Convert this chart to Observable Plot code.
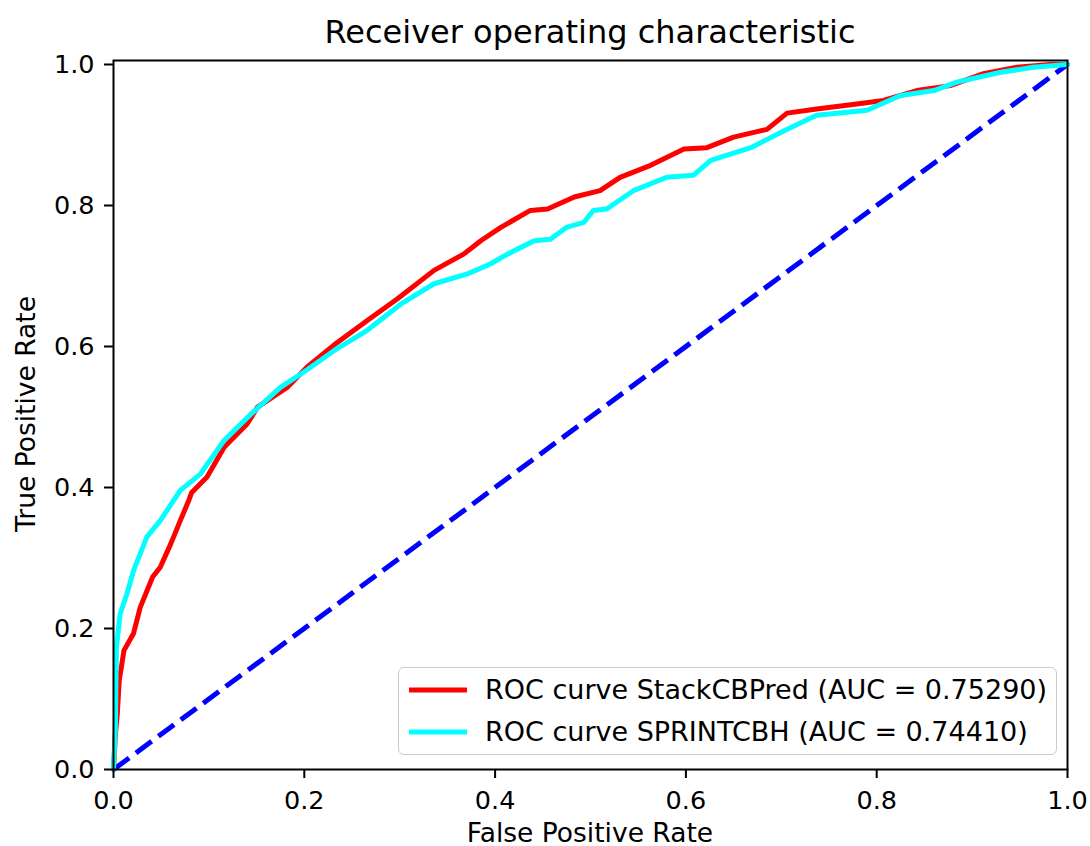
<!DOCTYPE html>
<html>
<head>
<meta charset="utf-8">
<script src="https://cdn.jsdelivr.net/npm/d3@7"></script>
<script src="https://cdn.jsdelivr.net/npm/@observablehq/plot@0.6"></script>
<style>
  html, body { margin: 0; padding: 0; background: #fff; }
  #wrap { position: relative; width: 1090px; height: 846px; font-family: "DejaVu Sans", sans-serif; color: #000; }
  #title { position: absolute; left: 113px; width: 954px; top: 16px; text-align: center; font-size: 32px; line-height: 1; white-space: nowrap; }
  #chart { position: absolute; left: 0; top: 50px; }
  #xlabel { position: absolute; left: 113px; width: 954px; top: 821px; height: 24px; text-align: center; font-size: 26.5px; line-height: 0.9; white-space: nowrap; }
  #ylabel { position: absolute; left: 26px; top: 414px; transform: translate(-50%, -50%) rotate(-90deg); white-space: nowrap; font-size: 26.5px; line-height: 1; }
  #legend { position: absolute; left: 398px; top: 667px; width: 657px; height: 86px; border: 1.5px solid #cccccc; border-radius: 6px; background: rgba(255,255,255,0.8); box-sizing: content-box; }
  .entry { position: absolute; left: 0; height: 30px; font-size: 27px; line-height: 30px; white-space: nowrap; }
  .entry svg { position: absolute; left: 9px; top: 0; }
  .entry span { position: absolute; left: 86px; top: 0; }
</style>
</head>
<body>
<div id="wrap">
  <div id="title">Receiver operating characteristic</div>
  <div id="chart"></div>
  <div id="xlabel">False Positive Rate</div>
  <div id="ylabel">True Positive Rate</div>
  <div id="legend"></div>
</div>
<script>
// ROC curve StackCBPred
const fprRed = [0, 0.002, 0.004, 0.006, 0.011, 0.021, 0.028, 0.041, 0.049, 0.060, 0.070, 0.079, 0.082, 0.098, 0.116, 0.140, 0.151, 0.182, 0.203, 0.231, 0.266, 0.297, 0.336, 0.367, 0.385, 0.406, 0.437, 0.455, 0.483, 0.510, 0.531, 0.563, 0.598, 0.622, 0.650, 0.685, 0.706, 0.737, 0.773, 0.807, 0.842, 0.877, 0.912, 0.947, 0.982, 1.0];
const tprRed = [0, 0.050, 0.079, 0.126, 0.169, 0.193, 0.230, 0.273, 0.287, 0.320, 0.353, 0.382, 0.393, 0.415, 0.457, 0.490, 0.514, 0.542, 0.571, 0.602, 0.637, 0.667, 0.708, 0.731, 0.750, 0.769, 0.793, 0.795, 0.812, 0.821, 0.840, 0.857, 0.880, 0.882, 0.897, 0.908, 0.931, 0.937, 0.943, 0.949, 0.963, 0.970, 0.987, 0.996, 1.0, 1.0];
// ROC curve SPRINTCBH
const fprCyan = [0, 0.002, 0.003, 0.007, 0.014, 0.021, 0.035, 0.049, 0.070, 0.091, 0.116, 0.144, 0.175, 0.203, 0.231, 0.266, 0.301, 0.336, 0.371, 0.395, 0.413, 0.441, 0.458, 0.475, 0.493, 0.503, 0.517, 0.545, 0.580, 0.608, 0.626, 0.668, 0.703, 0.737, 0.790, 0.825, 0.860, 0.884, 0.930, 0.964, 1.0];
const tprCyan = [0, 0.060, 0.173, 0.221, 0.249, 0.282, 0.330, 0.353, 0.396, 0.419, 0.467, 0.504, 0.542, 0.567, 0.594, 0.623, 0.660, 0.689, 0.703, 0.717, 0.731, 0.750, 0.752, 0.769, 0.776, 0.793, 0.795, 0.821, 0.840, 0.843, 0.864, 0.882, 0.906, 0.928, 0.935, 0.956, 0.963, 0.975, 0.989, 0.996, 1.0];
// chance line
const fprDiag = [0, 1];
const tprDiag = [0, 1];

const seriesNames = ["ROC curve StackCBPred (AUC = 0.75290)", "ROC curve SPRINTCBH (AUC = 0.74410)"];
const seriesColors = ["#ff0000", "#00ffff"];
const xTicks = [0, 0.2, 0.4, 0.6, 0.8, 1.0];
const yTicks = [0, 0.2, 0.4, 0.6, 0.8, 1.0];

const red = fprRed.map((x, i) => ({x, y: tprRed[i]}));
const cyan = fprCyan.map((x, i) => ({x, y: tprCyan[i]}));
const diag = fprDiag.map((x, i) => ({x, y: tprDiag[i]}));

const chart = Plot.plot({
  width: 1090,
  height: 796,
  marginLeft: 113,
  marginRight: 23,
  marginTop: 10,
  marginBottom: 77,
  style: {fontFamily: "DejaVu Sans, sans-serif", fontSize: "25.5px", color: "#000", background: "#fff"},
  x: {domain: [0, 1]},
  y: {domain: [0, 1.00567]},
  marks: [
    Plot.line(diag, {x: "x", y: "y", stroke: "#0000ff", strokeWidth: 5, strokeDasharray: "19.5 8.4", strokeLinecap: "butt"}),
    Plot.line(red, {x: "x", y: "y", stroke: seriesColors[0], strokeWidth: 5, strokeLinejoin: "round"}),
    Plot.line(cyan, {x: "x", y: "y", stroke: seriesColors[1], strokeWidth: 5, strokeLinejoin: "round"}),
    Plot.axisX({ticks: xTicks, tickFormat: d3.format(".1f"), tickSize: 9, tickPadding: 12, label: null, fontSize: 25.5, stroke: "#000", strokeWidth: 2}),
    Plot.axisY({ticks: yTicks, tickFormat: d3.format(".1f"), tickSize: 9, tickPadding: 10, label: null, fontSize: 25.5, stroke: "#000", strokeWidth: 2}),
    Plot.frame({stroke: "#000", strokeWidth: 2})
  ]
});
document.getElementById("chart").appendChild(chart);

const legend = document.getElementById("legend");
seriesNames.forEach((name, i) => {
  const e = document.createElement("div");
  e.className = "entry";
  e.style.top = (7 + i * 42) + "px";
  e.innerHTML = `<svg width="62" height="30"><line x1="1" x2="59" y1="15" y2="15" stroke="${seriesColors[i]}" stroke-width="5"/></svg><span>${name}</span>`;
  legend.appendChild(e);
});
</script>
</body>
</html>
